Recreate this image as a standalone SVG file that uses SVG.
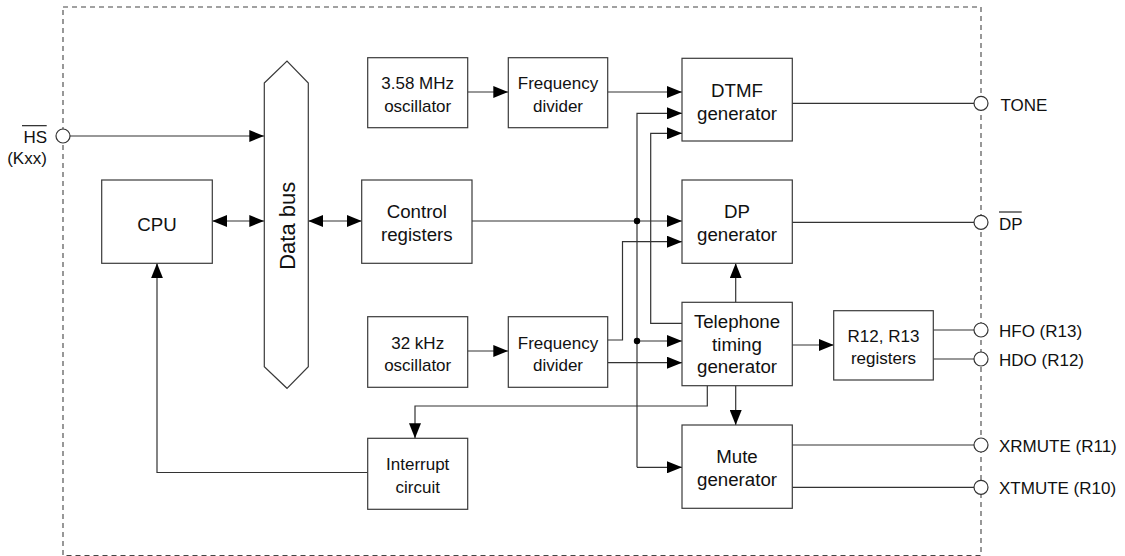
<svg xmlns="http://www.w3.org/2000/svg" width="1125" height="556" viewBox="0 0 1125 556">
<style>
  .box{fill:#fff;stroke:#3a3a3a;stroke-width:1.2}
  .ln{fill:none;stroke:#333;stroke-width:1.2}
  .pin{fill:#fff;stroke:#333;stroke-width:1.2}
  .border{fill:none;stroke:#444;stroke-width:1.1;stroke-dasharray:5,4}
  text{font-family:"Liberation Sans",Arial,Helvetica,sans-serif;font-size:17px;fill:#111}
  .c{text-anchor:middle}
  .big{font-size:18.7px}
  .ov{stroke:#111;stroke-width:1.1}
</style>
<defs>
  <marker id="ah" markerWidth="15" markerHeight="12" refX="15" refY="6" orient="auto-start-reverse" markerUnits="userSpaceOnUse">
    <path d="M0,0 L15,6 L0,12 z" fill="#000"/>
  </marker>
</defs>

<rect class="border" x="63" y="7" width="918" height="548.5"/>

<g id="connectors">
  <line class="ln" x1="70" y1="136" x2="264.3" y2="136" marker-end="url(#ah)"/>
  <line class="ln" x1="212.3" y1="221" x2="264.3" y2="221" marker-start="url(#ah)" marker-end="url(#ah)"/>
  <line class="ln" x1="308.3" y1="221" x2="361.7" y2="221" marker-start="url(#ah)" marker-end="url(#ah)"/>
  <line class="ln" x1="467.7" y1="92" x2="508.3" y2="92" marker-end="url(#ah)"/>
  <line class="ln" x1="607.7" y1="92" x2="682" y2="92" marker-end="url(#ah)"/>
  <line class="ln" x1="472" y1="221" x2="682" y2="221" marker-end="url(#ah)"/>
  <path class="ln" d="M637,467.3 L637,113.3 L682,113.3" marker-end="url(#ah)"/>
  <line class="ln" x1="637" y1="341" x2="682" y2="341" marker-end="url(#ah)"/>
  <line class="ln" x1="637" y1="467.3" x2="682" y2="467.3" marker-end="url(#ah)"/>
  <circle cx="637" cy="221" r="3.2" fill="#000"/>
  <circle cx="637" cy="341" r="3.2" fill="#000"/>
  <line class="ln" x1="467.7" y1="351" x2="508.3" y2="351" marker-end="url(#ah)"/>
  <line class="ln" x1="607.7" y1="362.7" x2="682" y2="362.7" marker-end="url(#ah)"/>
  <path class="ln" d="M607.7,340 L622.5,340 L622.5,241.7 L682,241.7" marker-end="url(#ah)"/>
  <path class="ln" d="M682,323.3 L650.7,323.3 L650.7,133.3 L682,133.3" marker-end="url(#ah)"/>
  <line class="ln" x1="735.7" y1="302.3" x2="735.7" y2="263.3" marker-end="url(#ah)"/>
  <line class="ln" x1="735.7" y1="385.7" x2="735.7" y2="425" marker-end="url(#ah)"/>
  <line class="ln" x1="792" y1="345" x2="833.7" y2="345" marker-end="url(#ah)"/>
  <path class="ln" d="M707.3,385.7 L707.3,406 L415,406 L415,438.3" marker-end="url(#ah)"/>
  <path class="ln" d="M367.7,472.5 L157,472.5 L157,263.3" marker-end="url(#ah)"/>
  <line class="ln" x1="792" y1="103.3" x2="974" y2="103.3"/>
  <line class="ln" x1="792" y1="222.3" x2="974" y2="222.3"/>
  <line class="ln" x1="933.3" y1="330" x2="974" y2="330"/>
  <line class="ln" x1="933.3" y1="359" x2="974" y2="359"/>
  <line class="ln" x1="792" y1="445" x2="974" y2="445"/>
  <line class="ln" x1="792" y1="487.3" x2="974" y2="487.3"/>
</g>

<g id="pin-hs">
  <circle class="pin" cx="63" cy="136" r="7"/>
  <text x="47" y="142.5" text-anchor="end">HS</text>
  <line class="ov" x1="22" y1="125.7" x2="46.7" y2="125.7"/>
  <text x="27" y="164" class="c">(Kxx)</text>
</g>
<g id="pin-tone"><circle class="pin" cx="981" cy="103.3" r="7"/><text x="1000.5" y="110.8">TONE</text></g>
<g id="pin-dp"><circle class="pin" cx="981" cy="222.3" r="7"/><text x="999" y="229.8">DP</text><line class="ov" x1="999" y1="212" x2="1021.7" y2="212"/></g>
<g id="pin-hfo"><circle class="pin" cx="981" cy="330" r="7"/><text x="999" y="337">HFO (R13)</text></g>
<g id="pin-hdo"><circle class="pin" cx="981" cy="359" r="7"/><text x="999" y="366">HDO (R12)</text></g>
<g id="pin-xrmute"><circle class="pin" cx="981" cy="445" r="7"/><text x="999" y="452">XRMUTE (R11)</text></g>
<g id="pin-xtmute"><circle class="pin" cx="981" cy="487.3" r="7"/><text x="999" y="494.3">XTMUTE (R10)</text></g>

<g id="databus">
  <polygon class="box" points="264.3,83 287,61 308.3,83 308.3,366.7 287,388.3 264.3,366.7"/>
  <text x="287" y="233.8" class="c" style="font-size:22px" transform="rotate(-90 287 225.8)">Data bus</text>
</g>
<g id="cpu"><rect class="box" x="101.7" y="180" width="110.6" height="83.3"/><text x="157" y="231" class="c big">CPU</text></g>
<g id="osc358"><rect class="box" x="367.7" y="57.7" width="100" height="70"/><text x="417.7" y="89.2" class="c">3.58 MHz</text><text x="417.7" y="111.7" class="c">oscillator</text></g>
<g id="fdiv1"><rect class="box" x="508.3" y="57.7" width="99.4" height="70"/><text x="558" y="89.2" class="c">Frequency</text><text x="558" y="111.7" class="c">divider</text></g>
<g id="dtmf"><rect class="box" x="682" y="58.3" width="110.3" height="82.7"/><text x="737" y="97" class="c big">DTMF</text><text x="737" y="119.5" class="c big">generator</text></g>
<g id="ctrlreg"><rect class="box" x="361.7" y="180" width="110.3" height="83.3"/><text x="416.8" y="218.3" class="c big">Control</text><text x="416.8" y="240.8" class="c big">registers</text></g>
<g id="dpgen"><rect class="box" x="682" y="180" width="110.3" height="83.3"/><text x="737" y="218.3" class="c big">DP</text><text x="737" y="240.8" class="c big">generator</text></g>
<g id="osc32"><rect class="box" x="367.7" y="316.7" width="100" height="70.6"/><text x="417.7" y="348.5" class="c">32 kHz</text><text x="417.7" y="371" class="c">oscillator</text></g>
<g id="fdiv2"><rect class="box" x="508.3" y="316.7" width="99.4" height="70.6"/><text x="558" y="348.5" class="c">Frequency</text><text x="558" y="371" class="c">divider</text></g>
<g id="ttg"><rect class="box" x="682" y="302.3" width="110.3" height="83.4"/><text x="737" y="328.3" class="c big">Telephone</text><text x="737" y="350.7" class="c big">timing</text><text x="737" y="373.2" class="c big">generator</text></g>
<g id="r12r13"><rect class="box" x="833.7" y="310.7" width="99.6" height="69.3"/><text x="883.5" y="341.8" class="c">R12, R13</text><text x="883.5" y="364.3" class="c">registers</text></g>
<g id="mute"><rect class="box" x="682" y="425" width="110.3" height="83.3"/><text x="737" y="463.2" class="c big">Mute</text><text x="737" y="485.7" class="c big">generator</text></g>
<g id="interrupt"><rect class="box" x="367.7" y="438.3" width="100" height="71"/><text x="417.7" y="470.3" class="c">Interrupt</text><text x="417.7" y="492.8" class="c">circuit</text></g>
</svg>
